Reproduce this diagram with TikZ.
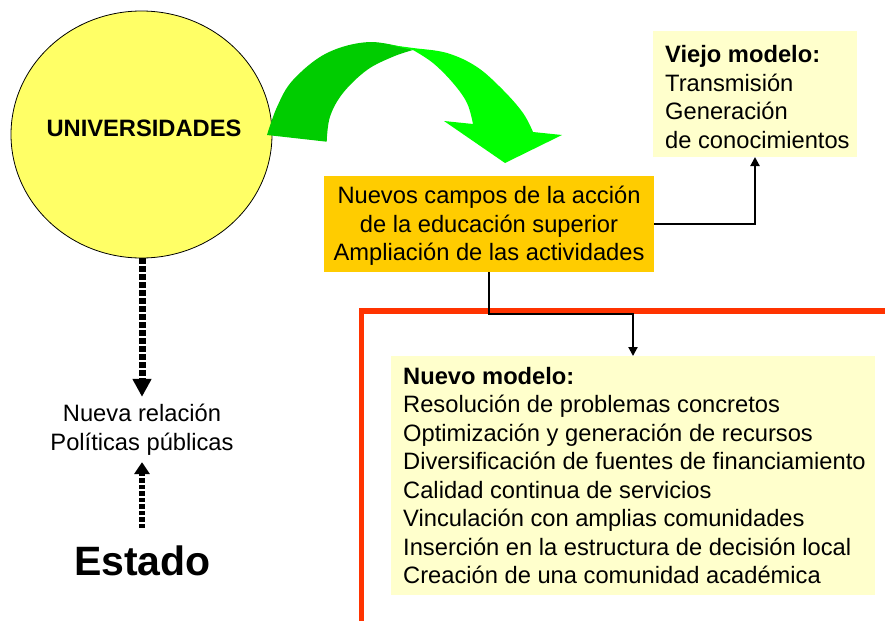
\documentclass[tikz,border=0pt]{standalone}
\usepackage{fontspec}
\setmainfont{Liberation Sans}
\usetikzlibrary{arrows.meta,shapes.geometric}
\definecolor{sunyellow}{HTML}{FFFF66}
\definecolor{boxorange}{HTML}{FFCC00}
\definecolor{paleyellow}{HTML}{FFFFCC}
\definecolor{darkgreen}{HTML}{00CC00}
\definecolor{brightgreen}{HTML}{00FF00}
\definecolor{redline}{HTML}{FF3300}
\begin{document}
\begin{tikzpicture}[x=1pt,y=-1pt,
  txt/.style={font=\fontsize{23.7}{28.5}\selectfont, inner sep=0pt},
  panel/.style={draw=none, inner sep=0pt, outer sep=0pt},
  conn/.style={line width=2pt, -{Triangle[width=9pt,length=9pt]}},
  bigdots/.style={line width=7pt, dash pattern=on 5.5pt off 2.5pt, -{Triangle[width=18pt,length=18pt]}},
  smalldots/.style={line width=5.5pt, dash pattern=on 4.5pt off 2pt, -{Triangle[width=15pt,length=12pt]}},
  ]
\useasboundingbox (0,0) rectangle (885,621);

% red frame line
\draw[redline, line width=5.5pt, line join=miter] (361.5,621) -- (361.5,311) -- (885,311);

% universities
\node[ellipse, draw=black, line width=0.8pt, fill=sunyellow, minimum width=261pt, minimum height=247pt, inner sep=0pt] (univ) at (141.5,134.5) {};
\node[txt, font=\fontsize{23.7}{28.5}\selectfont\bfseries] (univtext) at (144,128) {UNIVERSIDADES};

% green curved arrow
\fill[darkgreen] plot[smooth, tension=0.6] coordinates {(267,135) (277,107) (293,80) (327,53) (370,42) (413,50)}
  -- plot[smooth, tension=0.6] coordinates {(413,50) (393,56.7) (367,70) (343,93) (330,116.7) (326.7,141.7)} -- cycle;
\fill[brightgreen] plot[smooth, tension=0.6] coordinates {(390,45) (413,48) (447,53) (477,67) (503,90) (523,113) (533,132)}
  -- (562,135) -- (505,163) -- (444,121)
  -- plot[smooth, tension=0.6] coordinates {(473,124) (467,103) (453,83) (433,63) (413,50)} -- cycle;

% boxes
\node[panel, fill=boxorange, minimum width=330pt, minimum height=96pt] (orange) at (489,224) {};
\node[txt, align=center, anchor=base] (orangetext) at (489,260.5) {Nuevos campos de la acción\\de la educación superior\\Ampliación de las actividades};

\node[panel, fill=paleyellow, minimum width=204pt, minimum height=126pt] (viejo) at (755,94) {};
\node[txt, align=left, anchor=base west] (viejotext) at (665,148) {\textbf{Viejo modelo:}\\Transmisión\\Generación\\de conocimientos};

\node[panel, fill=paleyellow, minimum width=484pt, minimum height=239pt] (nuevo) at (633,475.5) {};
\node[txt, align=left, anchor=base west] (nuevotext) at (403,583.5) {\textbf{Nuevo modelo:}\\Resolución de problemas concretos\\Optimización y generación de recursos\\Diversificación de fuentes de financiamiento\\Calidad continua de servicios\\Vinculación con amplias comunidades\\Inserción en la estructura de decisión local\\Creación de una comunidad académica};

% connectors
\coordinate (elbow) at (633,314);
\draw[conn] (orange.east) -| (viejo.south);
\draw[conn] (orange.south) |- (elbow) -- (nuevo.north);

% left column
\node[txt, align=center, anchor=base] (relacion) at (142,450) {Nueva relación\\Políticas públicas};
\node[txt, font=\fontsize{41}{47}\selectfont\bfseries, anchor=base] (estado) at (142.5,575) {Estado};

\draw[bigdots, shorten >=7pt] (univ.south -| relacion.north) -- (relacion.north);
\draw[smalldots, shorten <=17pt, shorten >=7pt] (estado.north -| relacion.south) -- (relacion.south);
\end{tikzpicture}
\end{document}
